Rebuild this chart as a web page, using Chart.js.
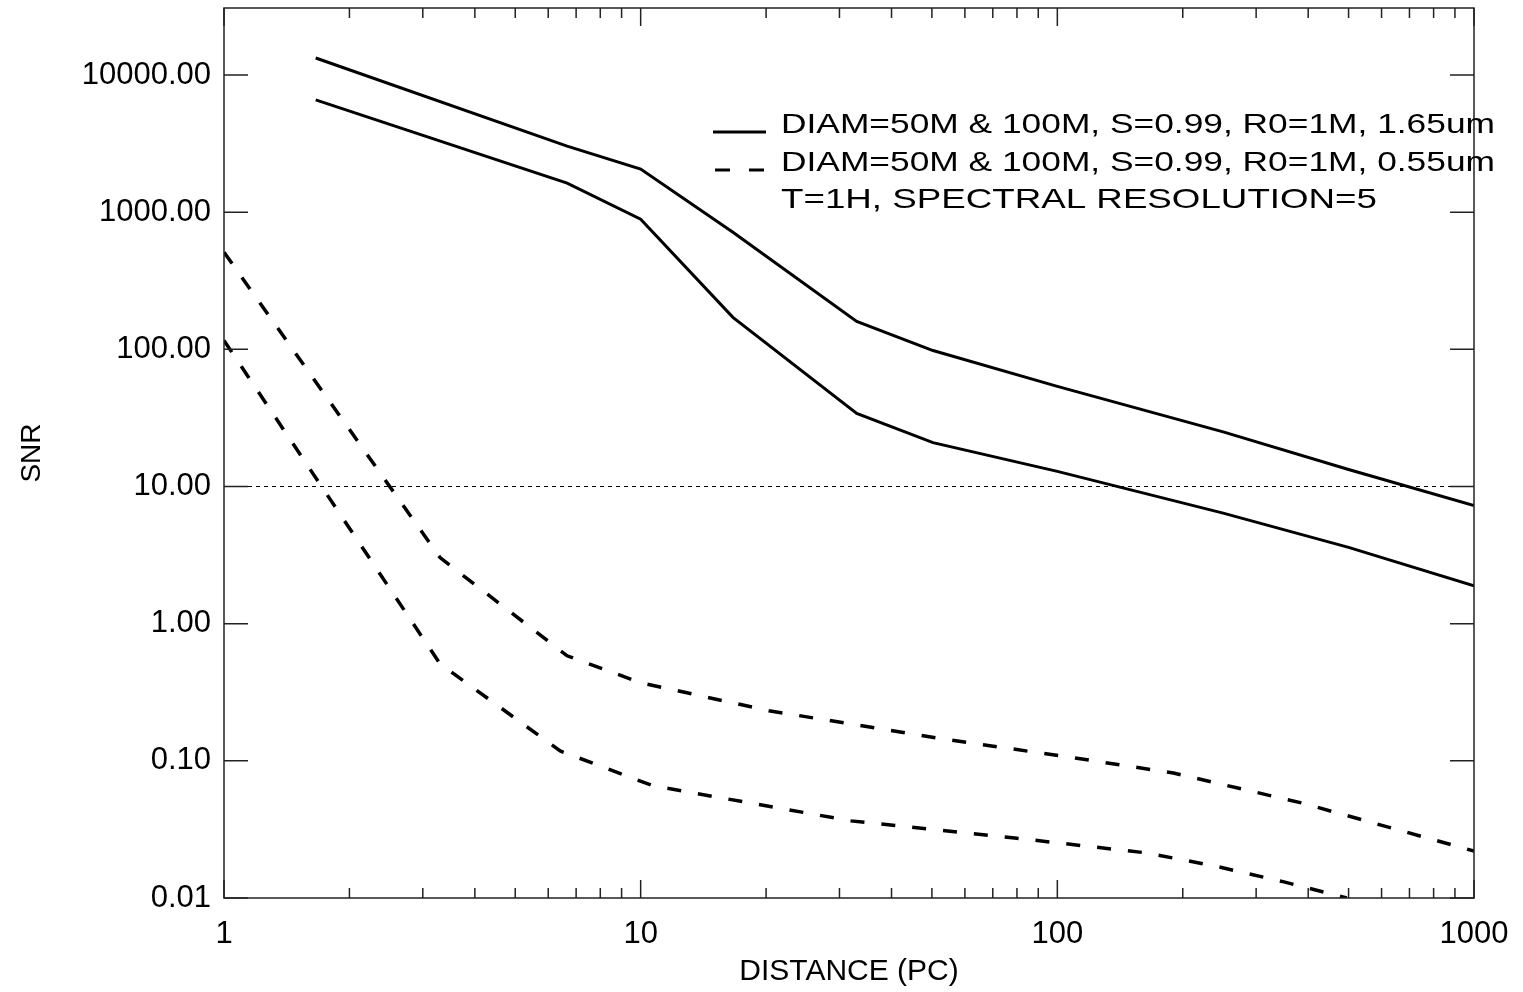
<!DOCTYPE html>
<html>
<head>
<meta charset="utf-8">
<script src="https://cdn.jsdelivr.net/npm/chart.js@4.4.0/dist/chart.umd.min.js"></script>
<style>
html,body{margin:0;padding:0;background:#fff;}
#wrap{width:1523px;height:992px;position:relative;}
</style>
</head>
<body>
<div id="wrap"><canvas id="c"></canvas></div>
<script>
// ---- tick definitions ----
const xTickValues = [1,2,3,4,5,6,7,8,9,10,20,30,40,50,60,70,80,90,100,200,300,400,500,600,700,800,900,1000];
const xMajorValues = [1,10,100,1000];
const xMajorLabels = ['1','10','100','1000'];
const yTickValues = [0.01,0.1,1,10,100,1000,10000];
const yTickLabels = ['0.01','0.10','1.00','10.00','100.00','1000.00','10000.00'];

// ---- series (distance in pc, SNR) ----
const solidHighX = [1.66, 6.66, 10, 16.65, 33, 50.3, 100, 250, 500, 1000];
const solidHighY = [13300, 3030, 2060, 714, 160, 98, 53.7, 25, 13.3, 7.26];
const solidLowX  = [1.66, 6.66, 10, 16.65, 33, 50.3, 100, 250, 500, 1000];
const solidLowY  = [6580, 1630, 889, 171, 34.1, 20.9, 12.9, 6.4, 3.6, 1.89];
const dashHighX  = [1, 3.3, 6.66, 10, 20.3, 52.8, 110, 190, 386, 1000];
const dashHighY  = [511, 3.03, 0.583, 0.371, 0.232, 0.145, 0.105, 0.0815, 0.0493, 0.022];
const dashLowX   = [1, 3.3, 6.41, 10.7, 32, 79, 164, 239, 350, 495];
const dashLowY   = [116, 0.51, 0.118, 0.0658, 0.0365, 0.0274, 0.0213, 0.0171, 0.0131, 0.01];
const thresholdX = [1, 1000];
const thresholdY = [10, 10];

const legendTexts = [
  'DIAM=50M & 100M, S=0.99, R0=1M, 1.65um',
  'DIAM=50M & 100M, S=0.99, R0=1M, 0.55um',
  'T=1H, SPECTRAL RESOLUTION=5'
];

const pts = (xs, ys) => xs.map((v, i) => ({x: v, y: ys[i]}));
const FONT = 'Liberation Sans';

const frameTicks = {
  id: 'frameTicks',
  afterDraw(chart) {
    const {ctx, chartArea: a, scales: {x, y}} = chart;
    ctx.save();
    ctx.strokeStyle = '#222';
    ctx.lineWidth = 1.5;
    ctx.strokeRect(a.left, a.top, a.right - a.left, a.bottom - a.top);
    ctx.beginPath();
    x.ticks.forEach(t => {
      const px = x.getPixelForValue(t.value);
      const len = xMajorValues.includes(t.value) ? 18 : 10;
      ctx.moveTo(px, a.bottom); ctx.lineTo(px, a.bottom - len);
      ctx.moveTo(px, a.top); ctx.lineTo(px, a.top + len);
    });
    y.ticks.forEach(t => {
      const py = y.getPixelForValue(t.value);
      ctx.moveTo(a.left, py); ctx.lineTo(a.left + 24, py);
      ctx.moveTo(a.right, py); ctx.lineTo(a.right - 24, py);
    });
    ctx.stroke();

    // legend
    ctx.strokeStyle = '#000';
    ctx.lineWidth = 3;
    ctx.beginPath();
    ctx.moveTo(713, 132); ctx.lineTo(766, 132);
    ctx.moveTo(715, 170); ctx.lineTo(730, 170);
    ctx.moveTo(749, 170); ctx.lineTo(764, 170);
    ctx.stroke();
    ctx.fillStyle = '#000';
    ctx.font = '28px "' + FONT + '"';
    ctx.textBaseline = 'alphabetic';
    const baselines = [133, 171, 208];
    const widths = [714, 714, 596];
    legendTexts.forEach((s, i) => {
      const w = ctx.measureText(s).width;
      ctx.save();
      ctx.translate(781, baselines[i]);
      ctx.scale(widths[i] / w, 1);
      ctx.fillText(s, 0, 0);
      ctx.restore();
    });
    ctx.restore();
  }
};

new Chart(document.getElementById('c'), {
  type: 'line',
  data: {
    datasets: [
      {data: pts(solidHighX, solidHighY), borderColor: '#000', borderWidth: 3, pointRadius: 0, tension: 0},
      {data: pts(solidLowX, solidLowY), borderColor: '#000', borderWidth: 3, pointRadius: 0, tension: 0},
      {data: pts(dashHighX, dashHighY), borderColor: '#000', borderWidth: 3.5, borderDash: [14, 17], pointRadius: 0, tension: 0},
      {data: pts(dashLowX, dashLowY), borderColor: '#000', borderWidth: 3.5, borderDash: [14, 17], pointRadius: 0, tension: 0},
      {data: pts(thresholdX, thresholdY), borderColor: '#000', borderWidth: 1, borderDash: [4, 4], pointRadius: 0, tension: 0}
    ]
  },
  options: {
    responsive: true,
    maintainAspectRatio: false,
    animation: false,
    layout: {padding: {top: 8, right: 49, left: 0, bottom: 0}},
    plugins: {legend: {display: false}, tooltip: {enabled: false}},
    scales: {
      x: {
        type: 'logarithmic', min: 1, max: 1000, position: 'bottom',
        grid: {display: false, drawTicks: false},
        border: {display: false},
        ticks: {
          autoSkip: false, maxRotation: 0, minRotation: 0, padding: 18, color: '#000',
          font: {family: FONT, size: 31},
          callback: (v) => { const i = xMajorValues.indexOf(v); return i >= 0 ? xMajorLabels[i] : ''; }
        },
        title: {display: true, text: 'DISTANCE (PC)', color: '#000', font: {family: FONT, size: 30}, padding: {top: 0, bottom: 2}},
        afterBuildTicks: s => { s.ticks = xTickValues.map(v => ({value: v})); },
        afterFit: s => { s.height = 94; s.paddingLeft = 0; s.paddingRight = 0; }
      },
      y: {
        type: 'logarithmic', min: 0.01, max: 30800, position: 'left',
        grid: {display: false, drawTicks: false},
        border: {display: false},
        ticks: {
          autoSkip: false, padding: 13, color: '#000',
          font: {family: FONT, size: 31},
          callback: (v, i) => yTickLabels[i]
        },
        title: {display: true, text: 'SNR', color: '#000', font: {family: FONT, size: 28}, padding: {top: 15, bottom: 0}},
        afterBuildTicks: s => { s.ticks = yTickValues.map(v => ({value: v})); },
        afterFit: s => { s.width = 224; s.paddingTop = 0; s.paddingBottom = 0; }
      }
    }
  },
  plugins: [frameTicks]
});
</script>
</body>
</html>
